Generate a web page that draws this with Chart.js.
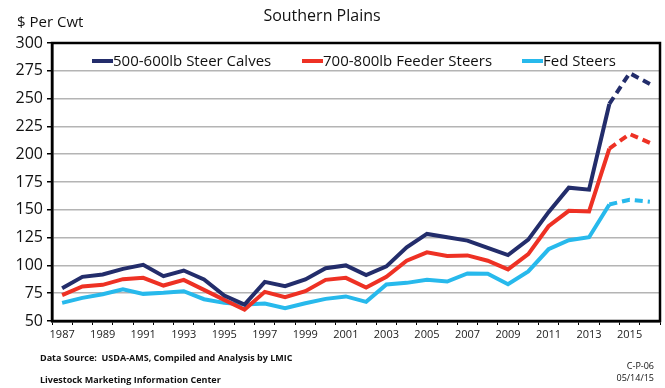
<!DOCTYPE html>
<html>
<head>
<meta charset="utf-8">
<script src="https://cdn.jsdelivr.net/npm/chart.js@4"></script>
<style>
  html, body { margin: 0; padding: 0; background: #fff; }
  #wrap { position: relative; width: 665px; height: 388px; font-family: "Open Sans", sans-serif; }
  canvas { position: absolute; left: 0; top: 0; }
  .note { position: absolute; font-size: 9px; color: #111; white-space: nowrap; }
  .bold { font-weight: bold; }
</style>
</head>
<body>
<div id="wrap">
  <canvas id="chart" width="665" height="388"></canvas>
  <div class="note bold" style="left:40px; top:351px;">Data Source:&nbsp; USDA-AMS, Compiled and Analysis by LMIC</div>
  <div class="note bold" style="left:40px; top:373px;">Livestock Marketing Information Center</div>
  <div class="note" style="right:11px; top:359px; text-align:right;">C-P-06</div>
  <div class="note" style="right:11px; top:371px; text-align:right;">05/14/15</div>
</div>
<script>
// 데이터
const years = ['1987','1988','1989','1990','1991','1992','1993','1994','1995','1996',
               '1997','1998','1999','2000','2001','2002','2003','2004','2005','2006',
               '2007','2008','2009','2010','2011','2012','2013','2014','2015','2016'];

const steerCalves = [79.5, 89.7, 91.8, 96.9, 100.5, 90.3, 95.4, 87.3, 72.9, 64.8,
                     85.2, 81.3, 87.3, 97.5, 100, 91.3, 99.1, 116.3, 128.3, 125.3,
                     122.3, 115.7, 109.3, 123.2, 147.9, 169.9, 168.1, 245.2, 272.9, 263.2];

const feederSteers = [73.2, 81, 82.5, 87.6, 88.8, 81.9, 87, 78, 69, 60.3,
                      76.2, 71.4, 76.8, 87, 88.8, 80.1, 89.8, 104.2, 111.7, 108.4,
                      109, 104.2, 96.4, 110.2, 135.2, 149.1, 148.5, 205.1, 218.1, 210.2];

const fedSteers = [66.3, 70.8, 74.1, 78.6, 74.4, 75.3, 76.8, 69.6, 66.3, 64.8,
                   65.7, 61.5, 66, 69.9, 72.1, 67.2, 82.8, 84.3, 87, 85.5,
                   92.8, 92.5, 83.1, 94.6, 114.5, 122.6, 125.3, 154.8, 159, 157.2];

const seriesLabels = ['500-600lb Steer Calves', '700-800lb Feeder Steers', 'Fed Steers'];
const seriesColors = ['#232d6b', '#ee3124', '#27b9ec'];
const forecastStart = 27; // 2014 이후 점선

const FONT = '"Open Sans", sans-serif';

// 제목, 단위, 범례 그리기
const headerPlugin = {
    id: 'header',
    afterDraw(chart) {
        const ctx = chart.ctx;
        const area = chart.chartArea;
        ctx.save();
        ctx.fillStyle = '#111';
        ctx.textBaseline = 'middle';
        ctx.font = '16px ' + FONT;
        ctx.textAlign = 'center';
        ctx.fillText('Southern Plains', 322, 16);
        ctx.font = '15px ' + FONT;
        ctx.textAlign = 'left';
        ctx.fillText('$ Per Cwt', 17, 23);

        // 범례 (플롯 안쪽)
        const legendX = [92, 302, 522];
        ctx.font = '15px ' + FONT;
        chart.data.datasets.forEach((ds, i) => {
            const x = legendX[i];
            const y = area.top + 18;
            ctx.strokeStyle = ds.borderColor;
            ctx.lineWidth = 4;
            ctx.beginPath();
            ctx.moveTo(x, y);
            ctx.lineTo(x + 21, y);
            ctx.stroke();
            ctx.fillStyle = '#111';
            ctx.fillText(ds.label, x + 21, y + 1);
        });

        // 테두리
        ctx.strokeStyle = '#000';
        ctx.lineWidth = 2.5;
        ctx.strokeRect(area.left, area.top, area.right - area.left, area.bottom - area.top);
        ctx.restore();
    }
};

const dashAfter = (ctx) => ctx.p0DataIndex >= forecastStart ? [8, 5] : undefined;

const makeDataset = (i, values) => ({
    label: seriesLabels[i],
    data: values,
    borderColor: seriesColors[i],
    backgroundColor: seriesColors[i],
    borderWidth: 4,
    pointRadius: 0,
    tension: 0,
    segment: { borderDash: dashAfter }
});

new Chart(document.getElementById('chart').getContext('2d'), {
    type: 'line',
    data: {
        labels: years,
        datasets: [
            makeDataset(0, steerCalves),
            makeDataset(1, feederSteers),
            makeDataset(2, fedSteers)
        ]
    },
    plugins: [headerPlugin],
    options: {
        responsive: false,
        animation: false,
        layout: { padding: { top: 43, right: 5, bottom: 47, left: 0 } },
        plugins: {
            legend: { display: false },
            title: { display: false },
            tooltip: { enabled: false }
        },
        scales: {
            x: {
                offset: true,
                grid: { display: true, drawOnChartArea: false, drawTicks: true, tickLength: 4, color: '#000', offset: true },
                border: { color: '#000', width: 2.5 },
                ticks: {
                    autoSkip: false,
                    maxRotation: 0,
                    padding: 3,
                    color: '#222',
                    font: { family: FONT, size: 11 },
                    callback: (v, i) => (i % 2 === 0 ? years[i] : '')
                },
                afterFit: (scale) => { scale.height = 20; }
            },
            y: {
                min: 50,
                max: 300,
                ticks: {
                    stepSize: 25,
                    padding: 4,
                    color: '#111',
                    font: { family: FONT, size: 16 }
                },
                grid: { color: '#b4b4b4', lineWidth: 1.5, tickLength: 5, tickColor: '#000' },
                border: { color: '#000', width: 2.5 },
                afterFit: (scale) => { scale.width = 52; }
            }
        }
    }
});
</script>
</body>
</html>
